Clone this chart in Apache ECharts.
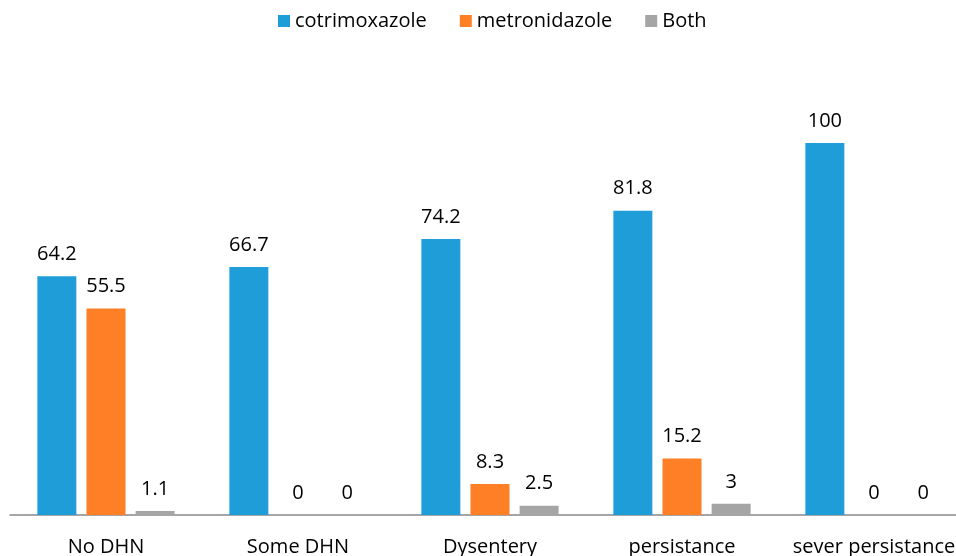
<!DOCTYPE html>
<html><head><meta charset="utf-8">
<script src="https://cdn.jsdelivr.net/npm/echarts@6/dist/echarts.min.js"></script>
<style>html,body{margin:0;padding:0;background:#fff}#c{width:956px;height:556px}</style>
</head><body><div id="c"></div>
<script>
const categories = ['No DHN', 'Some DHN', 'Dysentery', 'persistance', 'sever persistance'];
const cotrimoxazole = [64.2, 66.7, 74.2, 81.8, 100];
const metronidazole = [55.5, 0, 8.3, 15.2, 0];
const both = [1.1, 0, 2.5, 3, 0];
const seriesNames = ['cotrimoxazole', 'metronidazole', 'Both'];
const colors = ['#1F9DD9', '#FF7F27', '#A5A5A5'];
const FONT = 'Open Sans';
const chart = echarts.init(document.getElementById('c'));
const mk = (name, data, color) => ({
  name, type: 'bar', data, barWidth: 39, barGap: '26%',
  itemStyle: {color},
  label: {show: true, position: 'top', distance: 12, color: '#000', fontFamily: FONT, fontSize: 20},
  emphasis: {disabled: true}
});
chart.setOption({
  animation: false,
  textStyle: {fontFamily: FONT},
  legend: {
    top: 6, left: 273, itemWidth: 12, itemHeight: 12, itemGap: 33,
    icon: 'rect',
    textStyle: {fontFamily: FONT, fontSize: 20, color: '#000'},
    data: seriesNames
  },
  grid: {left: 10, right: -14, top: 143, bottom: 41, containLabel: false, outerBoundsMode: 'none'},
  xAxis: {
    type: 'category', data: categories,
    axisLine: {lineStyle: {color: '#898989', width: 1.5}},
    axisTick: {show: false},
    axisLabel: {color: '#000', fontFamily: FONT, fontSize: 20, margin: 22, interval: 0}
  },
  yAxis: {type: 'value', min: 0, max: 100, show: false, splitLine: {show: false}},
  series: [mk(seriesNames[0], cotrimoxazole, colors[0]), mk(seriesNames[1], metronidazole, colors[1]), mk(seriesNames[2], both, colors[2])]
});
</script></body></html>
